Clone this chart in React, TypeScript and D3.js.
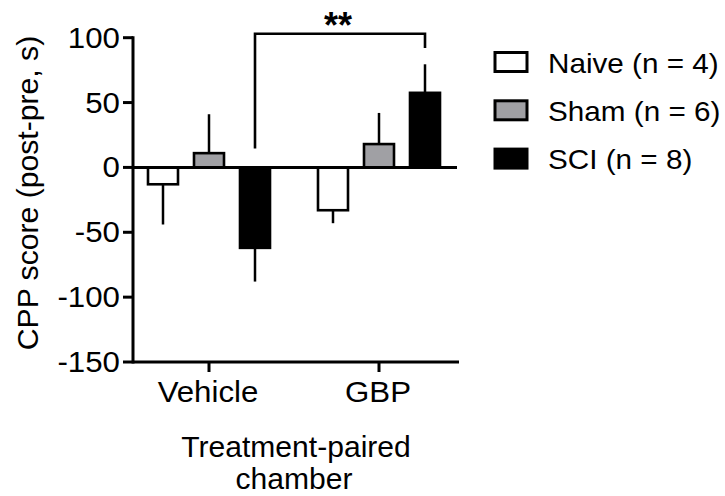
import React from "react";
import * as d3 from "d3";

const categories = ["Vehicle", "GBP"];
const seriesNames = ["Naive (n = 4)", "Sham (n = 6)", "SCI (n = 8)"];
const seriesFills = ["#ffffff", "#a0a0a4", "#000000"];
// mean values per category (rows) per series (cols)
const means = [
  [-13, 11, -62],
  [-33, 18, 57.5],
];
const errors = [
  [31, 30, 26],
  [10, 24, 22],
];
const yTicks = [-150, -100, -50, 0, 50, 100];
const bracket = { from: 0, to: 1, series: 2, top: 103, leftEnd: 14.5, rightEnd: 92, label: "**" };

const W = 725;
const H = 496;
const FONT = "'Liberation Sans', Arial, Helvetica, sans-serif";

export default function App() {
  const y = d3.scaleLinear().domain([-150, 100]).range([362, 37.7]);
  const x0 = d3.scaleBand<string>().domain(categories).range([124, 464]).padding(0);
  const x1 = d3
    .scaleBand<string>()
    .domain(seriesNames)
    .range([-61, 61])
    .paddingInner(16 / 46)
    .paddingOuter(0);
  const axisX0 = 133;
  const axisX1 = 459;
  const bw = x1.bandwidth();
  const cx = (c: number, s: number) =>
    (x0(categories[c]) as number) + x0.bandwidth() / 2 + (x1(seriesNames[s]) as number) + bw / 2;

  const bars: React.ReactNode[] = [];
  means.forEach((row, ci) => {
    row.forEach((v, si) => {
      const left = cx(ci, si) - bw / 2;
      const yTop = y(Math.max(0, v));
      const yBot = y(Math.min(0, v));
      const errEnd = v >= 0 ? y(v + errors[ci][si]) : y(v - errors[ci][si]);
      bars.push(
        <g key={`${ci}-${si}`}>
          <line x1={cx(ci, si)} x2={cx(ci, si)} y1={y(v)} y2={errEnd} stroke="#000" strokeWidth={2.5} />
          <rect
            x={left}
            y={yTop}
            width={bw}
            height={yBot - yTop}
            fill={seriesFills[si]}
            stroke="#000"
            strokeWidth={2.6}
          />
        </g>
      );
    });
  });

  const bx0 = cx(bracket.from, bracket.series);
  const bx1 = cx(bracket.to, bracket.series);

  return (
    <svg width={W} height={H} style={{ display: "block", position: "absolute", left: 0, top: 0 }} fontFamily={FONT}>
      <rect width={W} height={H} fill="#fff" />
      {/* bars */}
      {bars}
      {/* zero line */}
      <line x1={axisX0} x2={457} y1={y(0)} y2={y(0)} stroke="#000" strokeWidth={3} />
      {/* y axis */}
      <line x1={axisX0} x2={axisX0} y1={y(100) - 1.5} y2={y(-150) + 1.5} stroke="#000" strokeWidth={3} />
      {yTicks.map((t) => (
        <g key={t}>
          <line x1={axisX0 - 10} x2={axisX0} y1={y(t)} y2={y(t)} stroke="#000" strokeWidth={3} />
          <text
            transform={`translate(${axisX0 - 13},${y(t) + 10}) scale(1.06,1)`}
            textAnchor="end"
            fontSize={29.5}
            fill="#000"
          >
            {t}
          </text>
        </g>
      ))}
      {/* x axis */}
      <line x1={axisX0} x2={axisX1} y1={y(-150)} y2={y(-150)} stroke="#000" strokeWidth={3} />
      {categories.map((c) => {
        const xc = (x0(c) as number) + x0.bandwidth() / 2;
        return (
          <g key={c}>
            <line x1={xc} x2={xc} y1={y(-150)} y2={y(-150) + 10} stroke="#000" strokeWidth={3} />
            <text
              transform={`translate(${xc - 1},${401.7}) scale(1.06,1)`}
              textAnchor="middle"
              fontSize={29.5}
              fill="#000"
            >
              {c}
            </text>
          </g>
        );
      })}
      {/* x title */}
      <text transform={`translate(296,457) scale(1.02,1)`} textAnchor="middle" fontSize={29.5} fill="#000">
        Treatment-paired
      </text>
      <text transform={`translate(294,489) scale(1.02,1)`} textAnchor="middle" fontSize={29.5} fill="#000">
        chamber
      </text>
      {/* y title */}
      <text
        transform={`translate(37.5,193) rotate(-90) scale(1.04,1)`}
        textAnchor="middle"
        fontSize={29}
        fill="#000"
      >
        CPP score (post-pre, s)
      </text>
      {/* significance bracket */}
      <path
        d={`M${bx0},${y(bracket.leftEnd)} V${y(bracket.top)} H${bx1} V${y(bracket.rightEnd)}`}
        fill="none"
        stroke="#000"
        strokeWidth={2.6}
      />
      <text x={(bx0 + bx1) / 2 - 2} y={38} textAnchor="middle" fontSize={36} fontWeight="bold" fill="#000">
        {bracket.label}
      </text>
      {/* legend */}
      {seriesNames.map((s, i) => (
        <g key={s} transform={`translate(0,${i * 48.3})`}>
          <rect x={495} y={52.5} width={32} height={19} fill={seriesFills[i]} stroke="#000" strokeWidth={3} />
          <text transform={`translate(548,72.7) scale(1.06,1)`} fontSize={28} fill="#000">
            {s}
          </text>
        </g>
      ))}
    </svg>
  );
}
